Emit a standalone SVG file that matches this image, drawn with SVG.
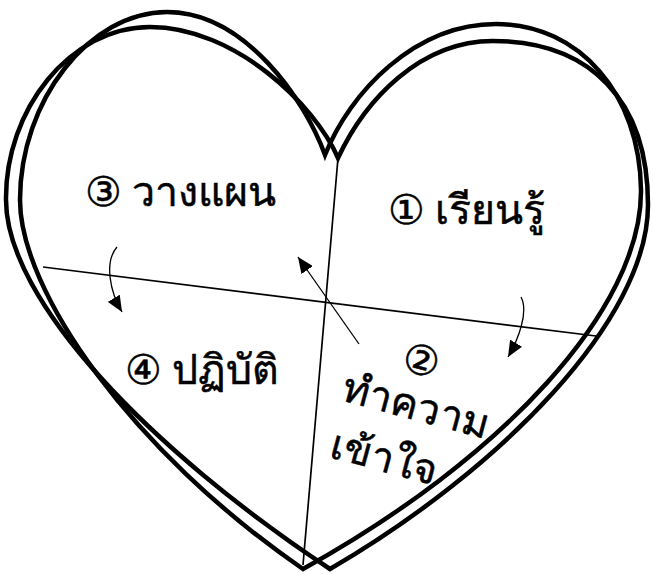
<svg xmlns="http://www.w3.org/2000/svg" width="653" height="574" viewBox="0 0 653 574">
<style>
.heart{fill:none;stroke:#000;stroke-width:4.5;stroke-linejoin:miter}
.div{fill:none;stroke:#000;stroke-width:1.7}
.arr{fill:none;stroke:#000;stroke-width:1.3}
.lbl{font-family:"Noto Sans","DejaVu Sans",sans-serif;font-size:41px;fill:#000;stroke:#000;stroke-width:0.5}
</style>
<defs>
<marker id="ah" markerUnits="userSpaceOnUse" markerWidth="16" markerHeight="14" refX="16" refY="7" orient="auto" viewBox="0 0 16 14">
<path d="M0,0 L16,7 L0,14 z" fill="#000"/>
</marker>
</defs>
<rect width="653" height="574" fill="#fff"/>
<g id="heart-a">
<path class="heart" d="M325,155 C350,92 415,24 496,24 C580,24 640,95 641,190 C642,310 500,460 303,569 C130,450 20,290 20,200 C20,100 90,12 167,12 C245,12 305,100 325,155 Z"/>
</g>
<g id="heart-b">
<path class="heart" d="M338,158 C365,100 420,41 493,41 C590,41 648,100 648,205 C648,320 500,470 330,569 C150,450 6,300 6,200 C5,110 70,27 150,27 C235,27 315,105 338,158 Z"/>
</g>
<g id="connectors">
<line class="div" x1="338" y1="158" x2="303" y2="565"/>
<line class="div" x1="43" y1="267" x2="596" y2="336"/>
<line class="arr" x1="359" y1="344" x2="298" y2="257" marker-end="url(#ah)"/>
<path class="arr" d="M117,247 C104,262 110,292 122,312" marker-end="url(#ah)"/>
<path class="arr" d="M521,297 C529,312 518,340 508,357" marker-end="url(#ah)"/>
</g>
<g id="node-3"><text class="lbl" x="85" y="206">③ วางแผน</text></g>
<g id="node-1"><text class="lbl" x="388" y="224" font-size="39">① เรียนรู้</text></g>
<g id="node-4"><text class="lbl" x="125" y="384">④ ปฏิบัติ</text></g>
<g id="node-2" transform="rotate(15 340 400)">
<text class="lbl" x="50" y="-45" transform="translate(340 400)" font-size="39">②</text>
<text class="lbl" x="0" y="0" transform="translate(340 400)" font-size="39">ทำความ</text>
<text class="lbl" x="3" y="58" transform="translate(340 400)" font-size="39">เข้าใจ</text>
</g>
</svg>
